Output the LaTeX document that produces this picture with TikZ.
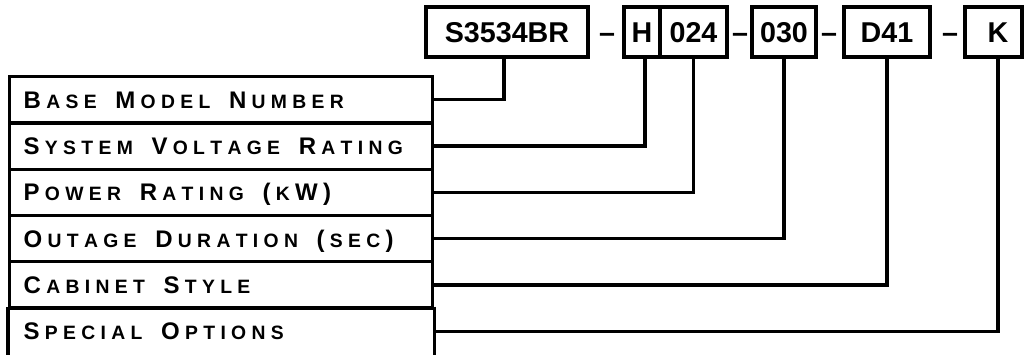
\documentclass[tikz,border=0pt]{standalone}
\usepackage{fontspec}
\setmainfont{Liberation Sans}
\newlength\trk
\setlength\trk{4pt}
\def\spcout#1{\spcoutA#1\relax}
\def\spcoutA#1{\ifx#1\relax\else#1\kern\trk\expandafter\spcoutA\fi}
\newcommand\Lb[1]{{\fontsize{18pt}{19pt}\selectfont\bfseries\spcout{#1}}}
\newcommand\Ls[1]{{\fontsize{14.5pt}{15pt}\selectfont\bfseries\spcout{#1}}}
\newcommand\Wg{\hspace{10pt}}
\tikzset{
  codebox/.style={draw, line width=2.4pt, font=\fontsize{21.5pt}{23pt}\selectfont\bfseries,
    text height=15.2pt, text depth=0pt, inner sep=0pt, minimum height=37.5pt},
  dashsym/.style={font=\fontsize{21.5pt}{23pt}\selectfont\bfseries,
    text height=15.2pt, text depth=0pt, inner sep=0pt},
  lblbox/.style={draw, line width=2.4pt, anchor=north west, minimum height=34.7pt,
    text width=296.25pt, align=left, inner xsep=10.5pt, inner ysep=0pt,
    text height=12.8pt, text depth=0pt},
  conn/.style={line width=2.4pt}
}
\begin{document}
\begin{tikzpicture}[x=0.75pt,y=-0.75pt]
\useasboundingbox (0,0) rectangle (1024,354);
% code boxes
\node[codebox, minimum width=121.5pt] (A) at (507,32) {S3534BR};
\node[dashsym] (d1) at (607,32) {–};
\node[codebox, minimum width=27pt] (H) at (642,32) {H};
\node[codebox, minimum width=50.25pt] (P) at (693.5,32) {024};
\node[dashsym] (d2) at (740,32) {–};
\node[codebox, minimum width=48pt] (O) at (784,32) {030};
\node[dashsym] (d3) at (829,32) {–};
\node[codebox, minimum width=64.5pt] (C) at (887,32) {D41};
\node[dashsym] (d4) at (950,32) {–};
\node[codebox, minimum width=42.75pt] (K) at (993.5,32) {\hspace*{6.75pt}K};
% label boxes
\node[lblbox] (l1) at (8,75) {\Lb{B}\Ls{ASE}\Wg\Lb{M}\Ls{ODEL}\Wg\Lb{N}\Ls{UMBER}};
\node[lblbox] (l2) at (8,121.3) {\Lb{S}\Ls{YSTEM}\Wg\Lb{V}\Ls{OLTAGE}\Wg\Lb{R}\Ls{ATING}};
\node[lblbox] (l3) at (8,167.6) {\Lb{P}\Ls{OWER}\Wg\Lb{R}\Ls{ATING}\Wg\Lb{(}\Ls{K}\Lb{W)}};
\node[lblbox] (l4) at (8,213.9) {\Lb{O}\Ls{UTAGE}\Wg\Lb{D}\Ls{URATION}\Wg\Lb{(}\Ls{SEC}\Lb{)}};
\node[lblbox] (l5) at (8,260.2) {\Lb{C}\Ls{ABINET}\Wg\Lb{S}\Ls{TYLE}};
\node[lblbox, draw=none] (l6) at (8,306.5) {\Lb{S}\Ls{PECIAL}\Wg\Lb{O}\Ls{PTIONS}};
\draw[conn] (l6.north west) -- ++(0,60);
\draw[conn] (l6.north east) -- ++(0,60);
% connectors
\draw[conn] ([xshift=-2.2pt]A.south) |- (l1.east);
\draw[conn] ([xshift=2.2pt]H.south) |- (l2.east);
\draw[conn] (P.south) |- (l3.east);
\draw[conn] (O.south) |- (l4.east);
\draw[conn] (C.south) |- (l5.east);
\draw[conn] ([xshift=3.4pt]K.south) |- (l6.east);
\end{tikzpicture}
\end{document}
